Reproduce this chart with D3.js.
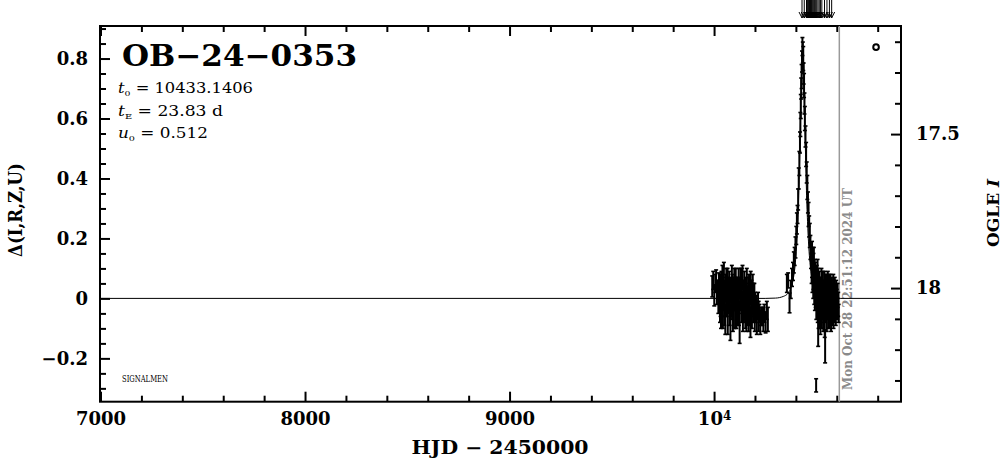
<!DOCTYPE html>
<html><head><meta charset="utf-8">
<script src="https://cdn.jsdelivr.net/npm/d3@7"></script>
<style>body{margin:0;background:#fff}svg{display:block}</style>
</head><body>
<svg id="c" width="1004" height="459"></svg>
<script>
// ---------- data ----------
const xMajor = [7000, 8000, 9000, 10000];
const xMinor = [7200,7400,7600,7800,8200,8400,8600,8800,9200,9400,9600,9800,10200,10400,10600,10800];
const yMajor = [-0.2, 0, 0.2, 0.4, 0.6, 0.8];
const yMinor = [-0.3,-0.25,-0.15,-0.1,-0.05,0.05,0.1,0.15,0.25,0.3,0.35,0.45,0.5,0.55,0.65,0.7,0.75,0.85,0.9];
const magMajor = [17.5, 18];
const magMinor = [17.2,17.3,17.4,17.6,17.7,17.8,17.9,18.1,18.2,18.3];

// season 2023 (early sparse + dense + tail)
const s1T = [9991,9996,10001,10006,10010,10014,10018,10021,10024,
10027,10029,10031,10032,10034,10036,10038,10039,10041,10043,
10045,10046,10048,10050,10052,10053,10055,10057,10059,10060,
10062,10064,10066,10067,10069,10071,10073,10074,10076,10078,
10080,10081,10083,10085,10087,10088,10090,10092,10094,10095,
10097,10099,10101,10102,10104,10106,10108,10109,10111,10113,
10115,10116,10118,10120,10122,10123,10125,10127,10129,10130,
10132,10134,10136,10137,10139,10141,10143,10144,10146,10148,
10150,10151,10153,10155,10157,10158,10160,10162,10164,10165,
10167,10169,10171,10172,10174,10176,10178,10179,10181,10183,
10185,10187,10189,10191,10193,10195,10197,10199,10201,10203,
10206,10209,10212,10215,10218,10222,10226,10230,
10236,10241,10246,10252,10258,10263];
const s1D = [0.04,0.06,0.01,0.05,0.07,0.02,0.03,-0.01,0.05,
0.02,-0.03,0.05,0.00,-0.06,0.04,0.01,-0.02,0.06,-0.04,
0.03,-0.01,0.07,-0.05,0.00,0.02,-0.07,0.04,-0.02,0.05,
-0.03,0.01,0.06,-0.06,0.03,-0.01,0.00,0.05,-0.04,0.02,
-0.08,0.03,0.01,-0.03,0.07,-0.02,0.04,-0.05,0.00,0.02,
-0.06,0.05,-0.01,0.03,-0.04,0.06,0.01,-0.07,0.02,-0.02,
0.04,-0.03,0.00,0.05,-0.05,0.03,-0.09,0.02,0.06,-0.01,
0.01,-0.04,0.04,-0.02,0.07,-0.06,0.00,0.03,-0.03,0.05,
-0.01,0.02,-0.05,0.04,0.00,-0.07,0.06,-0.02,0.01,-0.04,
0.03,-0.06,0.05,0.00,-0.03,0.02,-0.08,0.04,-0.01,0.03,
-0.05,0.01,0.02,-0.04,0.00,-0.03,0.01,-0.06,-0.02,-0.05,
-0.03,-0.07,-0.04,-0.02,-0.06,-0.05,-0.08,-0.06,
-0.06,-0.07,-0.05,-0.08,-0.04,-0.07];
const s1E = [0.035,0.03,0.035,0.03,0.025,0.04,0.03,0.04,0.035,
0.04,0.05,0.03,0.06,0.04,0.05,0.03,0.04,0.05,0.06,
0.04,0.03,0.05,0.04,0.06,0.03,0.05,0.04,0.04,0.05,
0.03,0.05,0.04,0.06,0.04,0.03,0.05,0.04,0.05,0.03,
0.06,0.04,0.05,0.03,0.04,0.05,0.04,0.06,0.03,0.05,
0.04,0.05,0.03,0.04,0.06,0.04,0.05,0.03,0.05,0.04,
0.03,0.06,0.04,0.05,0.04,0.03,0.06,0.05,0.04,0.03,
0.05,0.04,0.06,0.03,0.04,0.05,0.04,0.03,0.05,0.04,
0.06,0.04,0.05,0.03,0.05,0.04,0.04,0.06,0.03,0.05,
0.04,0.05,0.03,0.04,0.06,0.04,0.05,0.05,0.04,0.03,
0.05,0.04,0.06,0.04,0.05,0.03,0.04,0.05,0.04,0.03,
0.04,0.05,0.03,0.04,0.05,0.03,0.04,0.03,
0.03,0.04,0.03,0.035,0.03,0.04];

// season 2024: baseline before the event
const s2bT = [10356,10362,10369,10375,10381];
const s2bD = [0.05,0.06,-0.015,0.03,0.07];
const s2bE = [0.03,0.025,0.033,0.03,0.03];
// event
const s2pT = [10386,10390,10394,10398,10402,10405,10408,10411,10414,10417,10420,10422,10424,10426,10428,10430,10432,
10434,10436,10438,10440,10442,10444,10447,10450,10453,10456,10459,10462,10465,10468,10471,10474];
const s2pD = [0.09,0.12,0.14,0.17,0.21,0.25,0.28,0.33,0.40,0.45,0.52,0.58,0.64,0.70,0.74,0.79,0.84,
0.82,0.80,0.75,0.71,0.65,0.60,0.54,0.48,0.42,0.37,0.32,0.28,0.24,0.21,0.17,0.14];
const s2pE = [0.03,0.035,0.03,0.035,0.03,0.035,0.03,0.035,0.035,0.04,0.035,0.04,0.04,0.035,0.04,0.035,0.03,
0.035,0.04,0.035,0.04,0.035,0.04,0.035,0.04,0.035,0.04,0.035,0.04,0.035,0.04,0.04,0.04];
// after the event
const s2aT = [10477,10479,10481,10483,10485,10486,10488,10490,10492,10493,
10495,10497,10499,10500,10502,10504,10506,10507,10509,10511,
10513,10514,10516,10518,10520,10521,10523,10525,10527,10528,
10530,10532,10534,10535,10537,10539,10541,10542,10544,10546,
10548,10549,10551,10553,10555,10556,10558,10560,10562,10563,
10565,10567,10569,10570,10572,10574,10576,10577,10579,10581,
10583,10584,10586,10588,10590,10591,10593,10595,10597,10598,
10600,10602,10604,10605,10607,10609];
const s2aD = [0.10,0.13,0.07,0.11,0.05,0.09,0.12,0.04,0.08,0.02,
0.07,0.03,0.06,-0.02,0.05,0.01,0.08,-0.03,0.04,-0.06,
0.02,0.05,-0.04,0.00,-0.07,0.03,-0.02,0.06,-0.05,0.01,
-0.03,0.04,-0.06,0.02,-0.01,0.05,-0.08,0.00,-0.04,0.03,
-0.02,0.04,-0.07,0.01,-0.03,0.05,-0.05,0.00,0.03,-0.06,
0.02,-0.04,0.04,-0.02,-0.07,0.01,0.03,-0.05,0.00,-0.03,
0.04,-0.06,0.01,-0.02,0.03,-0.04,0.00,-0.05,0.02,-0.03,
-0.01,-0.04,0.01,-0.03,-0.02,-0.05];
const s2aE = [0.05,0.06,0.05,0.06,0.05,0.06,0.05,0.06,0.05,0.06,
0.05,0.06,0.04,0.05,0.06,0.04,0.05,0.05,0.06,0.04,
0.05,0.04,0.06,0.05,0.05,0.04,0.06,0.04,0.05,0.05,
0.04,0.05,0.05,0.04,0.06,0.04,0.05,0.05,0.04,0.05,
0.05,0.04,0.04,0.05,0.04,0.04,0.05,0.04,0.05,0.04,
0.04,0.05,0.04,0.05,0.04,0.05,0.04,0.04,0.05,0.04,
0.04,0.04,0.05,0.04,0.04,0.04,0.05,0.04,0.04,0.04,
0.04,0.03,0.04,0.03,0.04,0.03];
// outliers
const outT = [10509, 10543, 10499];
const outD = [-0.11, -0.16, -0.29];
const outE = [0.05, 0.055, 0.022];

// PSPL model curve (t0 = 10433.1406, tE = 23.83, u0 = 0.512)
const modelT = [6997.5,10250,10300,10338,10362,10373.5,10385.5,10397.4,10403.4,10409.3,10415.2,10421.2,10427.2,10430.2,10433.14,
10436.1,10439.1,10445.1,10451.0,10457.0,10462.9,10468.9,10480.8,10492.7,10504.6,10528,10576,10620,10914];
const modelD = [0,0,0.001,0.0065,0.0174,0.031,0.0584,0.119,0.1735,0.256,0.378,0.545,0.732,0.800,0.826,
0.800,0.732,0.545,0.378,0.256,0.1735,0.119,0.0584,0.031,0.0174,0.0065,0.0016,0,0];

// alert arrows, reference marker, date line
const alertT = [10430,10441,10452,10456,10460,10463,10466,10469,10472,10476,10480,10484,10488,10492,10497,10502,10508,10514,10520,10527,10540,10552,10564,10575];
const markerT = [10792], markerD = [0.838];
const nowT = 10612.45;
const nowLabel = "Mon Oct 28 22:51:12 2024 UT";

// ---------- drawing ----------
const svg = d3.select('#c');
const F = "'DejaVu Serif', serif";
const L = 100, R = 901, T = 26, B = 401.7;
const x = d3.scaleLinear().domain([6997.5, 10914]).range([L, R]);
const y = d3.scaleLinear().domain([-0.3445, 0.9085]).range([B, T]);
const yR = d3.scaleLinear().domain([18.369, 17.149]).range([B, T]);

function sty(g){
  g.select('.domain').remove();
  g.selectAll('line').attr('stroke','#000').attr('stroke-width',2);
  g.selectAll('text').attr('font-family',F).attr('font-weight','bold').attr('font-size',18).attr('fill','#000');
}
// bottom
svg.append('g').attr('transform',`translate(0,${B})`)
  .call(d3.axisBottom(x).tickValues(xMajor).tickSize(-10).tickPadding(11).tickFormat(d=>d===10000?'':String(d))).call(sty)
  .selectAll('text').filter(d=>d===10000).each(function(){
     const t=d3.select(this); t.append('tspan').text('10');
     t.append('tspan').attr('dy','-0.45em').attr('font-size',12).text('4');
  });
svg.append('g').attr('transform',`translate(0,${B})`)
  .call(d3.axisBottom(x).tickValues(xMinor).tickSize(-6).tickFormat('')).call(sty);
// top
svg.append('g').attr('transform',`translate(0,${T})`)
  .call(d3.axisTop(x).tickValues(xMajor).tickSize(-10).tickFormat('')).call(sty);
svg.append('g').attr('transform',`translate(0,${T})`)
  .call(d3.axisTop(x).tickValues(xMinor).tickSize(-6).tickFormat('')).call(sty);
// left
svg.append('g').attr('transform',`translate(${L},0)`)
  .call(d3.axisLeft(y).tickValues(yMajor).tickSize(-10).tickPadding(12)
    .tickFormat(d=>d===0?'0':(d<0?'\u2212':'')+Math.abs(d).toFixed(1))).call(sty);
svg.append('g').attr('transform',`translate(${L},0)`)
  .call(d3.axisLeft(y).tickValues(yMinor).tickSize(-6).tickFormat('')).call(sty);
// right
svg.append('g').attr('transform',`translate(${R},0)`)
  .call(d3.axisRight(yR).tickValues(magMajor).tickSize(-10).tickPadding(15).tickFormat(d=>String(d))).call(sty);
svg.append('g').attr('transform',`translate(${R},0)`)
  .call(d3.axisRight(yR).tickValues(magMinor).tickSize(-6).tickFormat('')).call(sty);

// frame
svg.append('rect').attr('x',L).attr('y',T).attr('width',R-L).attr('height',B-T)
  .attr('fill','none').attr('stroke','#000').attr('stroke-width',2);

// date line
svg.append('line').attr('x1',x(nowT)).attr('x2',x(nowT)).attr('y1',T).attr('y2',B)
  .attr('stroke','#9a9a9a').attr('stroke-width',1.5);
svg.append('text').attr('transform',`translate(${x(nowT)+12.5},390) rotate(-90)`)
  .attr('font-family',F).attr('font-weight','bold').attr('font-size',12.5).attr('fill','#8a8a8a')
  .attr('textLength',202).attr('lengthAdjust','spacingAndGlyphs').text(nowLabel);

// model
svg.append('path').datum(modelT.map((t,i)=>[t,modelD[i]]))
  .attr('d', d3.line().x(d=>x(d[0])).y(d=>y(d[1])).curve(d3.curveMonotoneX))
  .attr('fill','none').attr('stroke','#000').attr('stroke-width',1);

// observations (error bars)
const obs = [];
[[s1T,s1D,s1E],[s2bT,s2bD,s2bE],[s2pT,s2pD,s2pE],[s2aT,s2aD,s2aE],[outT,outD,outE]]
  .forEach(([T_,D_,E_])=>T_.forEach((t,i)=>obs.push({t,d:D_[i],e:E_[i]})));
const gO = svg.append('g').attr('stroke','#000').attr('stroke-width',2);
gO.selectAll('line.v').data(obs).join('line').attr('class','v')
  .attr('x1',d=>x(d.t)).attr('x2',d=>x(d.t)).attr('y1',d=>y(d.d-d.e)).attr('y2',d=>y(d.d+d.e));
gO.selectAll('line.a').data(obs).join('line').attr('class','a').attr('stroke-width',1.6)
  .attr('x1',d=>x(d.t)-2).attr('x2',d=>x(d.t)+2).attr('y1',d=>y(d.d+d.e)).attr('y2',d=>y(d.d+d.e));
gO.selectAll('line.b').data(obs).join('line').attr('class','b').attr('stroke-width',1.6)
  .attr('x1',d=>x(d.t)-2).attr('x2',d=>x(d.t)+2).attr('y1',d=>y(d.d-d.e)).attr('y2',d=>y(d.d-d.e));

// marker circle
svg.selectAll('circle.m').data(markerT).join('circle').attr('class','m')
  .attr('cx',d=>x(d)).attr('cy',(d,i)=>y(markerD[i])).attr('r',2.8)
  .attr('fill','none').attr('stroke','#000').attr('stroke-width',2);

// alert arrows above frame
const gA = svg.append('g').attr('stroke','#000').attr('stroke-width',1).attr('fill','none');
alertT.forEach(t=>{
  const xx = x(t);
  gA.append('line').attr('x1',xx).attr('x2',xx).attr('y1',0).attr('y2',18);
  gA.append('path').attr('d',`M${xx-3},12L${xx},18L${xx+3},12`);
});

// texts
svg.append('text').attr('x',122).attr('y',66).attr('font-family',F).attr('font-weight','bold')
  .attr('font-size',29).attr('textLength',235).attr('lengthAdjust','spacingAndGlyphs').text('OB\u221224\u22120353');

function param(yb, sym, sub, rest, len){
  const t = svg.append('text').attr('x',118).attr('y',yb).attr('font-family',F).attr('font-size',14)
    .attr('textLength',len).attr('lengthAdjust','spacingAndGlyphs');
  t.append('tspan').attr('font-style','italic').text(sym);
  t.append('tspan').attr('font-size',8).attr('dy',3).text(sub);
  t.append('tspan').attr('dy',-3).text(rest);
}
param(93, 't', '0', ' = 10433.1406', 135);
param(116, 't', 'E', ' = 23.83 d', 105);
param(138, 'u', '0', ' = 0.512', 90);

svg.append('text').attr('x',122).attr('y',382).attr('font-family',F).attr('font-size',9)
  .attr('textLength',46).attr('lengthAdjust','spacingAndGlyphs').text('SIGNALMEN');

svg.append('text').attr('x',500).attr('y',454).attr('text-anchor','middle').attr('font-family',F)
  .attr('font-weight','bold').attr('font-size',18).attr('textLength',177).attr('lengthAdjust','spacingAndGlyphs')
  .text('HJD \u2212 2450000');

svg.append('text').attr('transform','translate(22,210) rotate(-90)').attr('text-anchor','middle')
  .attr('font-family',F).attr('font-weight','bold').attr('font-size',18)
  .attr('textLength',94).attr('lengthAdjust','spacingAndGlyphs').text('\u0394(I,R,Z,U)');

const og = svg.append('text').attr('transform','translate(999,213) rotate(-90)').attr('text-anchor','middle')
  .attr('font-family',F).attr('font-weight','bold').attr('font-size',17);
og.append('tspan').text('OGLE ');
og.append('tspan').attr('font-style','italic').text('I');
</script>
</body></html>
